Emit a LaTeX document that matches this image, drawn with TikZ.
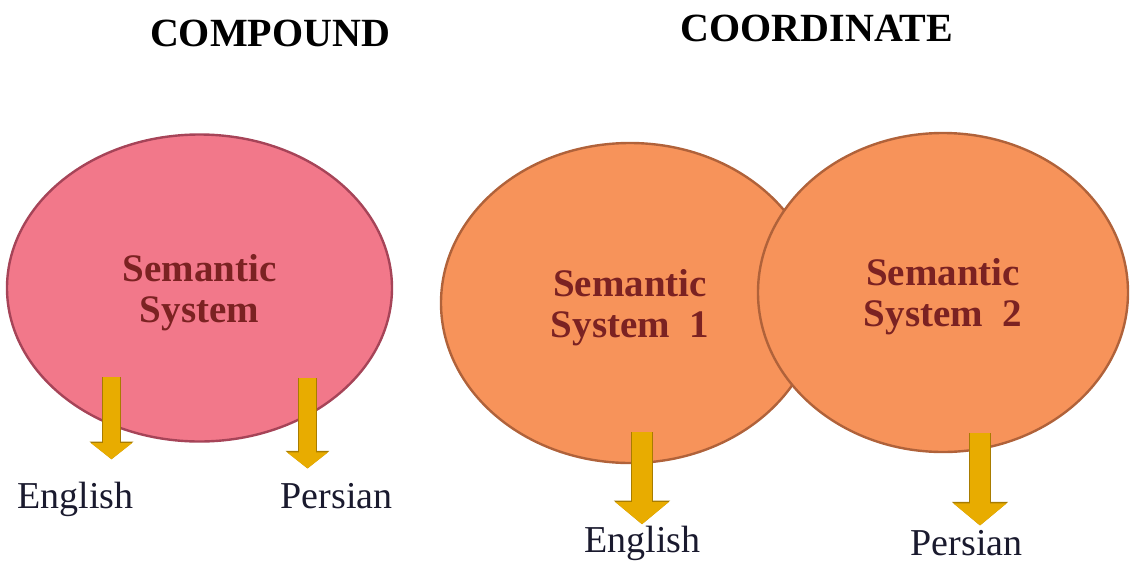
\documentclass[tikz,border=0pt]{standalone}
\usepackage{fontspec}
\setmainfont{Liberation Serif}
\usetikzlibrary{shapes.geometric,arrows.meta}
\definecolor{pinkfill}{RGB}{242,120,138}
\definecolor{pinkedge}{RGB}{166,68,88}
\definecolor{orangefill}{RGB}{247,147,90}
\definecolor{orangeedge}{RGB}{176,98,58}
\definecolor{arrowgold}{RGB}{232,172,0}
\definecolor{arrowedge}{RGB}{168,124,0}
\definecolor{semred}{RGB}{123,34,34}
\definecolor{langblack}{RGB}{26,26,46}
\tikzset{
  heading/.style={anchor=base,inner sep=0pt,font=\bfseries\fontsize{20}{22}\selectfont},
  system/.style={ellipse,inner sep=0pt,align=center,text depth=0pt,line width=1.2pt,
    text=semred,font=\bfseries\fontsize{19.5}{20.5}\selectfont},
  lang/.style={anchor=base,inner sep=0pt,text=langblack,font=\fontsize{19}{21}\selectfont},
  pinkarrow/.style={draw=arrowgold,line width=8.5pt,-{Triangle[width=20pt,length=8pt]},
    preaction={draw=arrowedge,line width=9.5pt,-{Triangle[width=21.5pt,length=8.8pt]}}},
  orangearrow/.style={draw=arrowgold,line width=10pt,-{Triangle[width=26pt,length=11pt]},
    preaction={draw=arrowedge,line width=11pt,-{Triangle[width=27.5pt,length=11.8pt]}}}
}
\begin{document}
\begin{tikzpicture}[x=0.5pt,y=-0.5pt]
	\useasboundingbox (0,0) rectangle (1132,563);
	\node[heading] (compound) at (270,46) {COMPOUND};
	\node[heading] (coordinate) at (817,41) {COORDINATE};
	\node[system,fill=pinkfill,draw=pinkedge,minimum width=192.5pt,minimum height=153.5pt] (shared) at (199.5,288) {Semantic\\System};
	\node[system,fill=orangefill,draw=orangeedge,minimum width=189pt,minimum height=160pt] (sysone) at (630,303) {Semantic\\System\ \ 1};
	\node[system,fill=orangefill,draw=orangeedge,minimum width=185pt,minimum height=159.5pt] (systwo) at (943,292.5) {Semantic\\System\ \ 2};
	\node[lang] (englishA) at (75.5,508) {English};
	\node[lang] (persianA) at (336.5,508) {Persian};
	\node[lang] (englishB) at (642.5,552) {English};
	\node[lang] (persianB) at (966.5,555) {Persian};
	\coordinate (englishAtop) at (111.5,377);
	\coordinate (persianAtop) at (307.5,378);
	\coordinate (englishBtop) at (642,432);
	\coordinate (persianBtop) at (980,433);
	\draw[pinkarrow,shorten >=11pt] (englishAtop) -- (englishAtop |- englishA.north);
	\draw[pinkarrow,shorten >=7pt] (persianAtop) -- (persianAtop |- persianA.north);
	\draw[orangearrow,shorten >=0.5pt] (englishBtop) -- (englishBtop |- englishB.north);
	\draw[orangearrow,shorten >=2pt] (persianBtop) -- (persianBtop |- persianB.north);
\end{tikzpicture}
\end{document}
